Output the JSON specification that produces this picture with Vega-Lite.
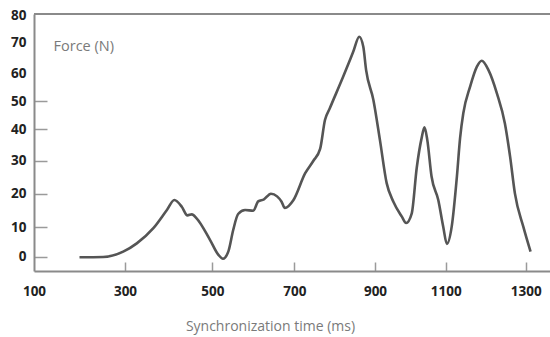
{
  "$schema": "https://vega.github.io/schema/vega-lite/v6.json",
  "width": 516,
  "height": 257,
  "autosize": {"type": "none"},
  "padding": {"left": 34, "top": 14, "right": 0, "bottom": 66},
  "background": "white",
  "config": {"view": {"stroke": null}},
  "data": {"values": [
    {"t": 200, "f": -0.2}, {"t": 252, "f": -0.1}, {"t": 296, "f": 1.7}, {"t": 327, "f": 4.5},
    {"t": 365, "f": 9.6}, {"t": 396, "f": 15.1}, {"t": 413, "f": 18.1}, {"t": 430, "f": 16.1},
    {"t": 443, "f": 13.5}, {"t": 453, "f": 13.8}, {"t": 464, "f": 12.6}, {"t": 495, "f": 5.6},
    {"t": 515, "f": 0.6}, {"t": 526, "f": -0.7}, {"t": 539, "f": 1.7}, {"t": 551, "f": 9.0},
    {"t": 563, "f": 13.9}, {"t": 580, "f": 15.1}, {"t": 600, "f": 14.9}, {"t": 612, "f": 17.7},
    {"t": 626, "f": 18.3}, {"t": 643, "f": 20.0}, {"t": 658, "f": 19.2}, {"t": 669, "f": 17.6},
    {"t": 677, "f": 15.7}, {"t": 698, "f": 18.1}, {"t": 727, "f": 26.2}, {"t": 747, "f": 29.9},
    {"t": 764, "f": 33.7}, {"t": 776, "f": 43.2}, {"t": 788, "f": 47.4}, {"t": 821, "f": 58.8},
    {"t": 846, "f": 67.0}, {"t": 861, "f": 72.1}, {"t": 871, "f": 68.6}, {"t": 878, "f": 61.1},
    {"t": 896, "f": 50.4}, {"t": 914, "f": 36.5}, {"t": 933, "f": 23.2}, {"t": 952, "f": 17.6},
    {"t": 976, "f": 13.1}, {"t": 988, "f": 11.2}, {"t": 1004, "f": 14.1}, {"t": 1018, "f": 27.8},
    {"t": 1032, "f": 37.2}, {"t": 1040, "f": 40.6}, {"t": 1048, "f": 36.5}, {"t": 1060, "f": 25.2},
    {"t": 1079, "f": 18.1}, {"t": 1093, "f": 10.1}, {"t": 1103, "f": 4.3}, {"t": 1115, "f": 10.1},
    {"t": 1128, "f": 25.2}, {"t": 1136, "f": 37.2}, {"t": 1144, "f": 45.6}, {"t": 1161, "f": 55.2},
    {"t": 1178, "f": 62.2}, {"t": 1190, "f": 64.1}, {"t": 1207, "f": 61.1}, {"t": 1228, "f": 52.8},
    {"t": 1248, "f": 42.0}, {"t": 1261, "f": 31.3}, {"t": 1273, "f": 20.1}, {"t": 1294, "f": 10.1},
    {"t": 1312, "f": 1.7}
  ]},
  "layer": [
    {
      "mark": {"type": "rule", "color": "#8a8a8a", "strokeWidth": 2},
      "encoding": {"y": {"datum": 80.4, "type": "quantitative"}}
    },
    {
      "mark": {"type": "line", "color": "#555555", "strokeWidth": 2.6, "interpolate": "monotone"},
      "encoding": {
        "x": {
          "field": "t", "type": "quantitative",
          "scale": {"domain": [100, 300, 500, 700, 900, 1100, 1300, 1360], "range": [0, 91, 178.3, 260.3, 341, 411.7, 491.7, 516], "nice": false, "zero": false},
          "axis": {
            "values": [100, 300, 500, 700, 900, 1100, 1300],
            "tickCount": 30,
            "title": "Synchronization time (ms)",
            "titleFont": "Open Sans", "titleFontSize": 14, "titleFontWeight": "normal", "titleColor": "#7a7a7a",
            "titleX": 236, "titleY": 55, "titleBaseline": "middle", "titleAnchor": null, "titleAlign": "center",
            "labelFont": "Open Sans", "labelFontSize": 13.5, "labelFontWeight": "bold", "labelColor": "#222222",
            "labelFlush": false, "labelOverlap": false, "labelBound": false, "labelPadding": 22,
            "domainColor": "#8a8a8a", "domainWidth": 2,
            "tickColor": "#9a9a9a", "tickWidth": 1.5, "tickSize": -9,
            "tickOpacity": {"condition": {"test": "datum.value < 200", "value": 0}, "value": 1},
            "grid": false, "format": "d"
          }
        },
        "y": {
          "field": "f", "type": "quantitative",
          "scale": {"domain": [-5, 0, 10, 20, 30, 40, 50, 60, 70, 80, 80.4], "range": [257, 242.7, 213, 179.7, 146.7, 115, 87, 59.5, 28.5, 1, 0], "nice": false, "zero": false},
          "axis": {
            "values": [0, 10, 20, 30, 40, 50, 60, 70, 80],
            "tickCount": 30,
            "title": "Force (N)",
            "titleFont": "Open Sans", "titleFontSize": 14.5, "titleFontWeight": "normal", "titleColor": "#7a7a7a",
            "titleAngle": 0, "titleX": 19, "titleY": 32, "titleAlign": "left", "titleBaseline": "middle", "titleAnchor": null,
            "labelFont": "Open Sans", "labelFontSize": 13.5, "labelFontWeight": "bold", "labelColor": "#222222",
            "labelFlush": false, "labelOverlap": false, "labelBound": false, "labelPadding": 21,
            "domainColor": "#8a8a8a", "domainWidth": 2,
            "tickColor": "#9a9a9a", "tickWidth": 1.5, "tickSize": -13,
            "tickOpacity": {"condition": {"test": "datum.value > 50", "value": 0}, "value": 1},
            "grid": false
          }
        }
      }
    }
  ]
}
